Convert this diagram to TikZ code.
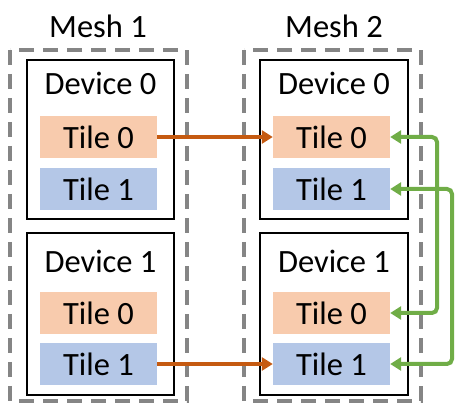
\documentclass[tikz,border=0pt]{standalone}
\usepackage{fontspec}
\setmainfont{Carlito}
\usetikzlibrary{arrows.meta,calc}
\definecolor{tileA}{HTML}{F8CBAD}
\definecolor{tileB}{HTML}{B4C7E7}
\definecolor{linkA}{HTML}{C55A11}
\definecolor{linkB}{HTML}{70AD47}
\definecolor{meshgray}{HTML}{858585}
\begin{document}
\begin{tikzpicture}[x=1pt,y=-1pt,
  lbl/.style={font=\fontsize{32.5}{33}\selectfont, inner sep=0pt, anchor=center},
  meshbox/.style={draw=meshgray, line width=4pt, dash pattern=on 15pt off 9pt, inner sep=0pt},
  devbox/.style={draw=black, line width=1.6pt, fill=white, inner sep=0pt},
  tilebox/.style={minimum width=117pt, minimum height=42pt, inner sep=0pt,
    font=\fontsize{32.5}{33}\selectfont},
  tzero/.style={tilebox, fill=tileA},
  tone/.style={tilebox, fill=tileB},
  orangelink/.style={draw=linkA, line width=4pt, -{Triangle[length=11pt,width=13pt]}},
  greenlink/.style={draw=linkB, line width=4pt, rounded corners=5pt,
    {Triangle[length=11pt,width=13pt]}-{Triangle[length=11pt,width=13pt]}}
]
\useasboundingbox (0,0) rectangle (456,403);

% mesh frames
\draw[meshbox] (10,50) rectangle (187,401);
\draw[meshbox] (244,50) rectangle (421,401);
\node[lbl] (m1) at (98,26) {Mesh 1};
\node[lbl] (m2) at (334,26) {Mesh 2};

% devices
\draw[devbox] (27,60) rectangle (174,219);
\draw[devbox] (27,233) rectangle (174,395);
\draw[devbox] (260,60) rectangle (408,219);
\draw[devbox] (260,233) rectangle (408,395);
\node[lbl] (d10) at (100.5,83) {Device 0};
\node[lbl] (d11) at (100.5,261) {Device 1};
\node[lbl] (d20) at (334,83) {Device 0};
\node[lbl] (d21) at (334,261) {Device 1};

% tiles of mesh 1
\node[tzero] (a00) at (98.5,137) {Tile 0};
\node[tone]  (a01) at (98.5,189) {Tile 1};
\node[tzero] (a10) at (98.5,313) {Tile 0};
\node[tone]  (a11) at (98.5,364) {Tile 1};
% tiles of mesh 2
\node[tzero] (b00) at (331.5,137) {Tile 0};
\node[tone]  (b01) at (331.5,189) {Tile 1};
\node[tzero] (b10) at (331.5,313) {Tile 0};
\node[tone]  (b11) at (331.5,364) {Tile 1};

% links between meshes
\draw[orangelink] (a00.east) -- (b00.west);
\draw[orangelink] (a11.east) -- (b11.west);

% links inside mesh 2
\draw[greenlink] (b00.east) -- (b00.east -| 437,0) -- (b10.east -| 437,0) -- (b10.east);
\draw[greenlink] (b01.east) -- (b01.east -| 452,0) -- (b11.east -| 452,0) -- (b11.east);
\end{tikzpicture}
\end{document}
